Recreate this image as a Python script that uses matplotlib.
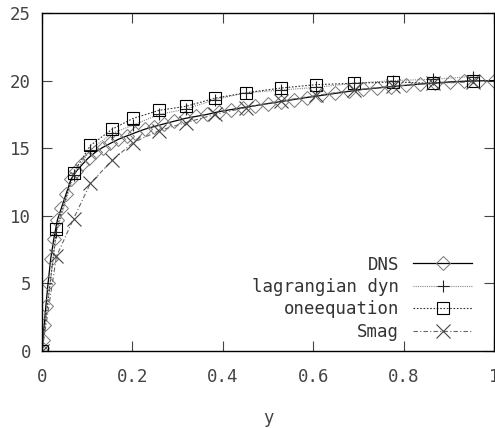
"""gnuplot-style mean velocity profile: DNS vs LES models."""
import matplotlib
matplotlib.use("Agg")
import matplotlib.pyplot as plt

# DNS (dense wall-normal grid)
dns_y = [0.0, 0.0005, 0.0021, 0.0048, 0.0086, 0.0134, 0.0192, 0.0261, 0.0341,
         0.0431, 0.0531, 0.0641, 0.0761, 0.0891, 0.1031, 0.1181, 0.1340, 0.1508,
         0.1685, 0.1871, 0.2066, 0.2269, 0.2479, 0.2698, 0.2929, 0.3163, 0.3406,
         0.3655, 0.3913, 0.4175, 0.4444, 0.4721, 0.5000, 0.5283, 0.5569, 0.5858,
         0.6173, 0.6481, 0.6786, 0.7097, 0.7412, 0.7729, 0.8049, 0.8371, 0.8695,
         0.9020, 0.9346, 0.9673, 1.0]
dns_u = [0.0, 0.2, 0.85, 1.9, 3.35, 5.0, 6.8, 8.3, 9.7,
         10.6, 11.6, 12.7, 13.3, 13.8, 14.3, 14.7, 15.05, 15.35,
         15.65, 15.9, 16.15, 16.4, 16.6, 16.8, 17.0, 17.2, 17.35,
         17.5, 17.7, 17.85, 18.0, 18.15, 18.3, 18.45, 18.6, 18.75,
         18.9, 19.05, 19.2, 19.35, 19.45, 19.55, 19.65, 19.75, 19.82,
         19.9, 19.95, 19.98, 20.0]

# LES grid
les_y = [0.0, 0.032, 0.070, 0.107, 0.155, 0.201, 0.259, 0.319, 0.383, 0.451,
         0.529, 0.606, 0.690, 0.777, 0.865, 0.954]
lag_u = [0.0, 8.8, 13.0, 14.9, 16.1, 16.7, 17.5, 17.9, 18.6, 19.1,
         19.3, 19.5, 19.8, 20.0, 20.1, 20.3]
one_u = [0.0, 9.0, 13.2, 15.2, 16.4, 17.2, 17.8, 18.1, 18.7, 19.1,
         19.45, 19.7, 19.8, 19.9, 19.8, 20.0]
smag_u = [0.0, 7.0, 9.8, 12.4, 14.1, 15.4, 16.3, 16.9, 17.5, 18.0,
          18.5, 18.9, 19.3, 19.6, 19.8, 19.9]

xticks = [0, 0.2, 0.4, 0.6, 0.8, 1]
xticklabels = ["0", "0.2", "0.4", "0.6", "0.8", "1"]
yticks = [0, 5, 10, 15, 20, 25]

plt.rcParams["font.family"] = ["DejaVu Sans Mono"]
plt.rcParams["font.size"] = 12.5

fig = plt.figure(figsize=(4.95, 4.28), dpi=100)
ax = fig.add_axes([42 / 495, 77 / 428, 452 / 495, 338 / 428])

ax.plot(dns_y, dns_u, color="black", lw=0.9, marker="D", ms=7.5, mfc="none",
        mec="#777777", mew=0.7, label="DNS")
ax.plot(les_y, lag_u, color="#888888", lw=0.8, ls=(0, (1, 1)), marker="+", ms=9,
        mec="#222222", mew=0.8, label="lagrangian dyn")
ax.plot(les_y, one_u, color="#333333", lw=0.8, ls=(0, (1.5, 1.5)), marker="s", ms=8,
        mfc="none", mec="black", mew=0.8, label="oneequation")
ax.plot(les_y, smag_u, color="#666666", lw=0.8, ls=(0, (4, 2, 1, 2)), marker="x", ms=10,
        mec="#444444", mew=0.8, label="Smag")

ax.set_xlim(0, 1)
ax.set_ylim(0, 25)
ax.set_xticks(xticks)
ax.set_xticklabels(xticklabels)
ax.set_yticks(yticks)
ax.tick_params(direction="in", length=7, width=0.8, color="#444444",
               top=True, right=True, labelcolor="#444444")
ax.tick_params(axis="x", pad=12)
ax.tick_params(axis="y", pad=8)
for s in ax.spines.values():
    s.set_linewidth(1.0)
ax.set_xlabel("y", color="#444444", labelpad=17)

leg = ax.legend(loc="lower right", bbox_to_anchor=(0.975, 0.0), markerfirst=False,
                frameon=False, handlelength=3.4, handletextpad=0.8, labelspacing=0.25,
                borderaxespad=0.2)
for t in leg.get_texts():
    t.set_color("#333333")

fig.savefig("out.png", dpi=100)
